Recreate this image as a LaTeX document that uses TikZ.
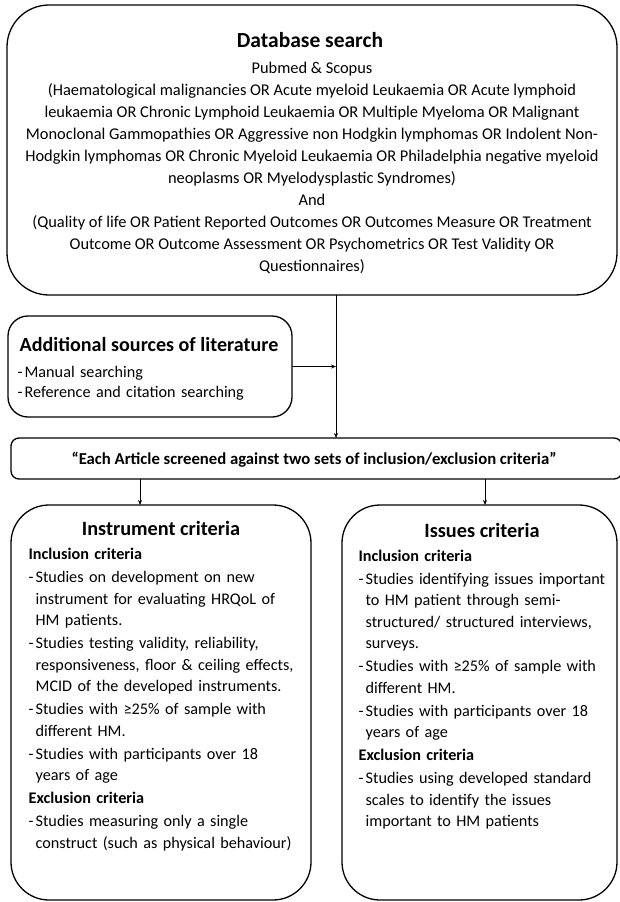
\documentclass[tikz,border=0pt]{standalone}
\usepackage{fontspec}
\setmainfont{Carlito}
\usetikzlibrary{arrows.meta}

\newcommand{\critem}[1]{\par\hangindent=7pt\hangafter=1\noindent\makebox[7pt][l]{-}#1\par}
\newcommand{\crhead}[1]{\par\noindent\textbf{#1}\par}

\begin{document}
\begin{tikzpicture}
    [x=1pt,y=-1pt,line width=1.3pt,
     box/.style={draw,outer sep=0pt,inner sep=0pt},
     arr/.style={-{Stealth[length=5pt,width=4pt]},line width=0.9pt},
     title/.style={font=\bfseries\fontsize{20.3}{22}\selectfont,inner sep=0pt},
     crit/.style={anchor=north west,inner sep=0pt,text width=300pt,align=left,
       font=\fontsize{16.2}{21.5}\selectfont\setlength{\parskip}{1.5pt}}]
    \useasboundingbox (0,0) rectangle (619,902);
    \node[box,rounded corners=42pt,minimum width=610,minimum height=290] (db) at (312,150) {};
    \node[box,rounded corners=20pt,minimum width=284,minimum height=101] (addl) at (150,366.5) {};
    \node[box,rounded corners=8pt,minimum width=611,minimum height=41] (screen) at (316.5,458.5) {};
    \node[box,rounded corners=38pt,minimum width=300,minimum height=395] (inst) at (161,702.5) {};
    \node[box,rounded corners=38pt,minimum width=275,minimum height=395] (issues) at (479.5,702.5) {};
    \coordinate (j) at (336,0);
    \coordinate (li) at (140,0);
    \coordinate (ri) at (485,0);
    \node[title,font=\bfseries\fontsize{21.5}{22}\selectfont] (dbtitle) at (310,40) {Database search};
    \node[anchor=north,align=center,inner sep=0pt,font=\fontsize{16.4}{22}\selectfont] (dbtxt) at (312,61)
      {Pubmed \& Scopus\\
       (Haematological malignancies OR Acute myeloid Leukaemia OR Acute lymphoid\\
       leukaemia OR Chronic Lymphoid Leukaemia OR Multiple Myeloma OR Malignant\\
       Monoclonal Gammopathies OR Aggressive non Hodgkin lymphomas OR Indolent Non-\\
       Hodgkin lymphomas OR Chronic Myeloid Leukaemia OR Philadelphia negative myeloid\\
       neoplasms OR Myelodysplastic Syndromes)\\
       And\\
       (Quality of life OR Patient Reported Outcomes OR Outcomes Measure OR Treatment\\
       Outcome OR Outcome Assessment OR Psychometrics OR Test Validity OR\\
       Questionnaires)};
    \node[title,anchor=west,font=\bfseries\fontsize{20.1}{22}\selectfont] (addltitle) at (19,345) {Additional sources of literature};
    \node[crit,text width=260pt,font=\fontsize{16.2}{21}\selectfont] (addltxt) at (17,356)
      {\critem{Manual searching}\vspace{-1.5pt}
       \critem{Reference and citation searching}};
    \node[inner sep=0pt,font=\bfseries\fontsize{16.7}{18}\selectfont] (screentxt) at (314,460)
      {“Each Article screened against two sets of inclusion/exclusion criteria”};
    \node[title] (insttitle) at (161,528) {Instrument criteria};
    \node[crit] (insttxt) at (28,536)
      {\crhead{Inclusion criteria}
       \critem{Studies on development on new\newline instrument for evaluating HRQoL of\newline HM patients.}
       \critem{Studies testing validity, reliability,\newline responsiveness, floor \& ceiling effects,\newline MCID of the developed instruments.}
       \critem{Studies with ≥25\% of sample with\newline different HM.}
       \critem{Studies with participants over 18\newline years of age}
       \crhead{Exclusion criteria}
       \critem{Studies measuring only a single\newline construct (such as physical behaviour)}};
    \node[title] (issuestitle) at (482,530) {Issues criteria};
    \node[crit,text width=270pt] (issuestxt) at (358,537.5)
      {\crhead{Inclusion criteria}
       \critem{Studies identifying issues important\newline to HM patient through semi-\newline structured/ structured interviews,\newline surveys.}
       \critem{Studies with ≥25\% of sample with\newline different HM.}
       \critem{Studies with participants over 18\newline years of age}
       \crhead{Exclusion criteria}
       \critem{Studies using developed standard\newline scales to identify the issues\newline important to HM patients}};
    \draw[arr] (db.south -| j) -- (screen.north -| j) ;
    \draw[arr] (addl.east) -- (addl.east -| j) ;
    \draw[arr] (screen.south -| li) -- (inst.north -| li) ;
    \draw[arr] (screen.south -| ri) -- (issues.north -| ri) ;
\end{tikzpicture}
\end{document}
